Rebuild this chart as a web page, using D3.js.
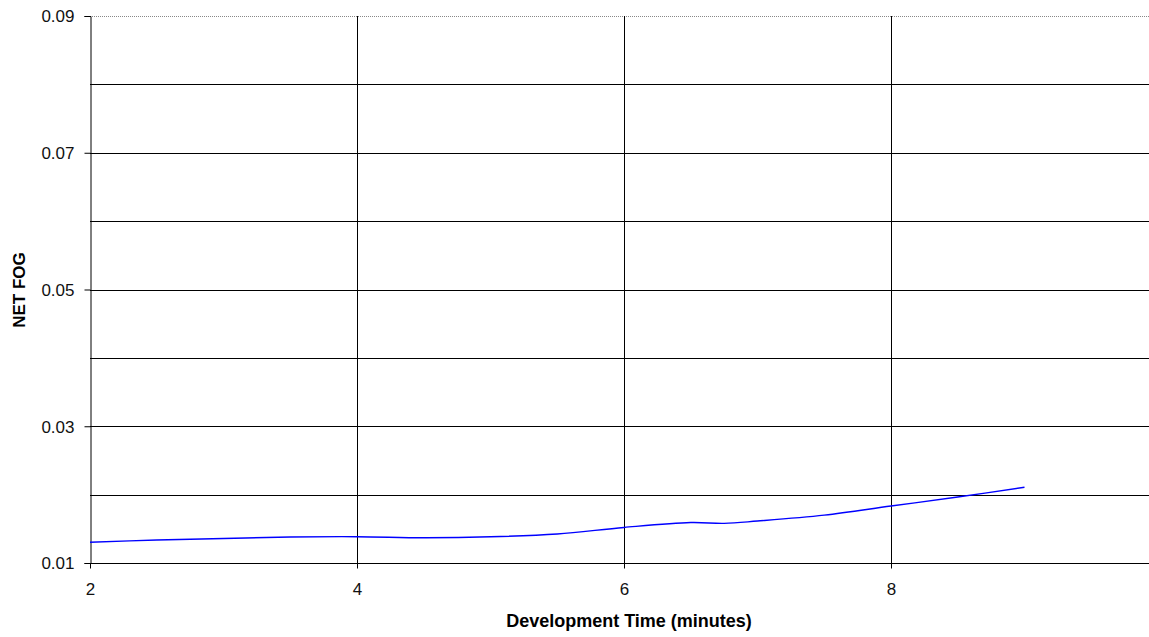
<!DOCTYPE html>
<html><head><meta charset="utf-8">
<script src="https://cdn.jsdelivr.net/npm/d3@7/dist/d3.min.js"></script>
<style>body{margin:0;background:#fff}svg{display:block}</style>
</head><body><svg id="c" width="1149" height="637"></svg>
<script>
const times = [2, 2.5, 3, 3.5, 4, 4.5, 5, 5.5, 6, 6.5, 6.75, 7, 7.5, 8, 8.5, 9];
const netFog = [0.01303, 0.01336, 0.01358, 0.0138, 0.01385, 0.0137, 0.01383, 0.01424, 0.0152, 0.01592, 0.0158, 0.01614, 0.0170, 0.01833, 0.01965, 0.02107];
const xTicks = [2, 4, 6, 8];
const yTicks = [0.01, 0.03, 0.05, 0.07, 0.09];
const yGrid = [0.02, 0.03, 0.04, 0.05, 0.06, 0.07, 0.08];

const svg = d3.select("#c");
const x = d3.scaleLinear().domain([2, 10]).range([90, 1158]);
const y = d3.scaleLinear().domain([0.01, 0.09]).range([563, 16]);
const font = "'Liberation Sans', Arial, sans-serif";

// horizontal gridlines
svg.append("g").selectAll("line").data(yGrid).join("line")
  .attr("x1", 90).attr("x2", 1149)
  .attr("y1", d => Math.round(y(d)) + 0.5).attr("y2", d => Math.round(y(d)) + 0.5)
  .attr("stroke", "#000").attr("stroke-width", 1);
// top border (dotted gray)
svg.append("line").attr("x1", 90).attr("x2", 1149)
  .attr("y1", Math.round(y(0.09)) + 0.5).attr("y2", Math.round(y(0.09)) + 0.5)
  .attr("stroke", "#888").attr("stroke-width", 1).attr("stroke-dasharray", "1,1");
// vertical gridlines
svg.append("g").selectAll("line").data(xTicks.slice(1)).join("line")
  .attr("x1", d => Math.round(x(d)) + 0.5).attr("x2", d => Math.round(x(d)) + 0.5)
  .attr("y1", y(0.09)).attr("y2", y(0.01))
  .attr("stroke", "#000").attr("stroke-width", 1);

// axes
const xAxis = d3.axisBottom(x).tickValues(xTicks).tickSize(5).tickPadding(14).tickFormat(d3.format("d"));
const gx = svg.append("g").attr("transform", `translate(0,${Math.round(y(0.01)) + 0.5})`).call(xAxis);
gx.select(".domain").attr("d", `M90,0H1149`);
const yAxis = d3.axisLeft(y).tickValues(yTicks).tickSize(6).tickPadding(10).tickFormat(d3.format(".2f"));
const gy = svg.append("g").attr("transform", `translate(${Math.round(x(2)) + 0.5},0)`).call(yAxis);
[gx, gy].forEach(g => {
  g.selectAll("text").attr("font-family", font).attr("font-size", 17).attr("fill", "#111");
  g.selectAll("line,path").attr("stroke", "#000");
});
gy.selectAll(".tick text").attr("dy", "0.35em");

// line
const line = d3.line().x((d, i) => x(times[i])).y(d => y(d)).curve(d3.curveCatmullRom);
svg.append("path").datum(netFog).attr("d", line)
  .attr("fill", "none").attr("stroke", "#0000ff").attr("stroke-width", 1.4);

// titles
svg.append("text").attr("x", 629).attr("y", 627).attr("text-anchor", "middle")
  .attr("font-family", font).attr("font-weight", "bold").attr("font-size", 18).text("Development Time (minutes)");
svg.append("text").attr("transform", "translate(25,290) rotate(-90)").attr("text-anchor", "middle")
  .attr("font-family", font).attr("font-weight", "bold").attr("font-size", 17).text("NET FOG");
</script></body></html>
